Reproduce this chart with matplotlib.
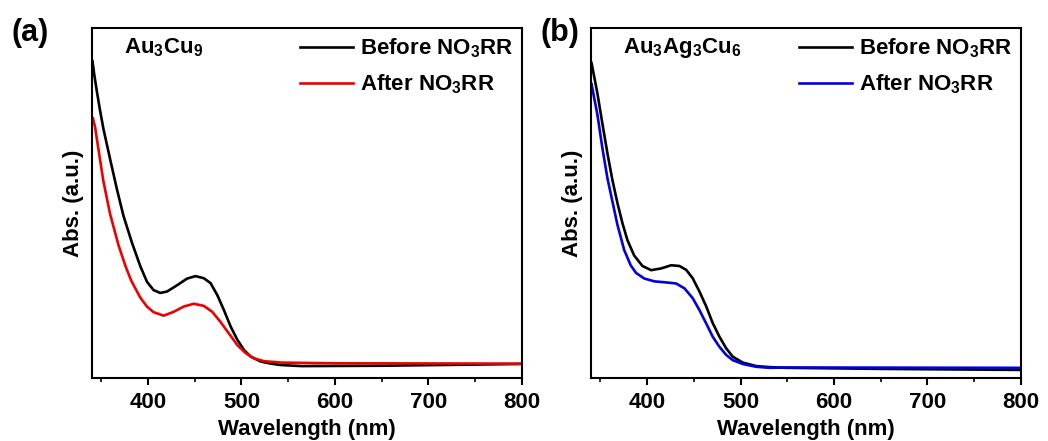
import numpy as np
import matplotlib
matplotlib.use("Agg")
import matplotlib.pyplot as plt
from matplotlib.ticker import MultipleLocator

plt.rcParams.update({
    "font.family": ["Liberation Sans", "DejaVu Sans"],
    "font.weight": "bold",
    "mathtext.fontset": "custom",
    "mathtext.rm": "Liberation Sans:bold",
    "mathtext.it": "Liberation Sans:bold",
    "mathtext.bf": "Liberation Sans:bold",
    "mathtext.default": "rm",
    "axes.linewidth": 1.5,
})

# UV-vis spectra, Au3Cu9 (panel a)
wl_a_before = [340.5, 342.5, 345, 348.5, 352.2, 359.4, 366.6, 373.7, 382.7, 391.6, 398.8, 405.9,
               413.1, 420.3, 431.1, 441.8, 450.8, 459.7, 466.9, 474.1, 481.2, 488.4, 495.6,
               502.7, 509.9, 520.6, 531.4, 542.2, 564, 650, 800]
abs_a_before = [0.905, 0.865, 0.822, 0.766, 0.712, 0.625, 0.540, 0.463, 0.387, 0.320, 0.275,
                0.251, 0.243, 0.247, 0.265, 0.284, 0.291, 0.285, 0.271, 0.237, 0.194, 0.147,
                0.109, 0.080, 0.061, 0.047, 0.041, 0.037, 0.034, 0.035, 0.040]
wl_a_after = [341, 343.2, 346.8, 352.2, 359.4, 368.3, 375.5, 382, 391.6, 398.8, 405.9, 416.7,
              427.4, 438.2, 448.9, 459.7, 468.7, 477.6, 486.6, 495.6, 504.5, 513.4, 524.2, 542.2,
              600, 800]
abs_a_after = [0.742, 0.718, 0.655, 0.562, 0.468, 0.380, 0.322, 0.278, 0.230, 0.204, 0.188,
               0.178, 0.189, 0.204, 0.212, 0.206, 0.189, 0.160, 0.127, 0.094, 0.071, 0.056,
               0.048, 0.044, 0.042, 0.041]

# UV-vis spectra, Au3Ag3Cu6 (panel b)
wl_b_before = [340.5, 346.8, 352.1, 357.5, 362.8, 368.2, 373.6, 378.9, 386.1, 395, 404.3, 415,
               425.7, 434.6, 441.8, 448.8, 456, 463.2, 470.2, 477.4, 484.6, 491.6, 502.4, 516.7,
               531, 549, 650, 800]
abs_b_before = [0.90, 0.813, 0.727, 0.642, 0.566, 0.50, 0.442, 0.394, 0.350, 0.320, 0.308,
                0.313, 0.322, 0.32, 0.309, 0.285, 0.247, 0.205, 0.157, 0.118, 0.085, 0.061, 0.044,
                0.034, 0.031, 0.029, 0.026, 0.023]
wl_b_after = [340.5, 346.8, 352.1, 357.5, 362.8, 368.2, 375.4, 382.4, 388.2, 397.1, 407.8, 420.3,
              431, 440, 448.8, 456, 463.2, 470.2, 477.4, 484.6, 491.6, 502.4, 516.7, 531, 549, 800]
abs_b_after = [0.84, 0.752, 0.657, 0.571, 0.505, 0.438, 0.366, 0.322, 0.300, 0.284, 0.276, 0.273,
               0.270, 0.256, 0.228, 0.194, 0.156, 0.118, 0.089, 0.066, 0.051, 0.040, 0.032, 0.029,
               0.030, 0.029]

panels = [
    ("(a)", r"Au$_3$Cu$_9$", wl_a_before, abs_a_before, wl_a_after, abs_a_after, "#ee0000"),
    ("(b)", r"Au$_3$Ag$_3$Cu$_6$", wl_b_before, abs_b_before, wl_b_after, abs_b_after, "#0000e0"),
]

fig = plt.figure(figsize=(10.48, 4.41), dpi=100)
lefts = [0.0878, 0.564]
tags_x = [0.011, 0.516]
for (tag, sample, wb, ab, wf, af, col), L, tx in zip(panels, lefts, tags_x):
    ax = fig.add_axes([L, 0.1429, 0.410, 0.7937])
    ax.plot(wb, ab, color="black", lw=1.9, label=r"Before NO$_3$RR")
    ax.plot(wf, af, color=col, lw=1.9, label=r"After NO$_3$RR")
    ax.set_xlim(340, 800)
    ax.set_ylim(0, 1)
    ax.xaxis.set_major_locator(MultipleLocator(100))
    ax.xaxis.set_minor_locator(MultipleLocator(50))
    ax.tick_params(axis="x", which="major", direction="out", length=5, width=1.5,
                   labelsize=16, pad=5)
    ax.tick_params(axis="x", which="minor", direction="out", length=3, width=1.2)
    ax.set_yticks([])
    ax.set_xlabel("Wavelength (nm)", fontsize=16, weight="bold", labelpad=4.5)
    ax.set_ylabel("Abs. (a.u.)", fontsize=16, weight="bold", labelpad=6)
    ax.text(0.075, 0.928, sample, transform=ax.transAxes, fontsize=16, weight="bold",
            va="baseline", ha="left")
    ax.legend(loc="upper right", frameon=False, fontsize=16, handlelength=2.4,
              handletextpad=0.3, labelspacing=0.55, borderaxespad=0.1, borderpad=0.3)
    fig.text(tx, 0.907, tag, fontsize=22, weight="bold", va="baseline", ha="left")

fig.savefig("out.png", dpi=100)
